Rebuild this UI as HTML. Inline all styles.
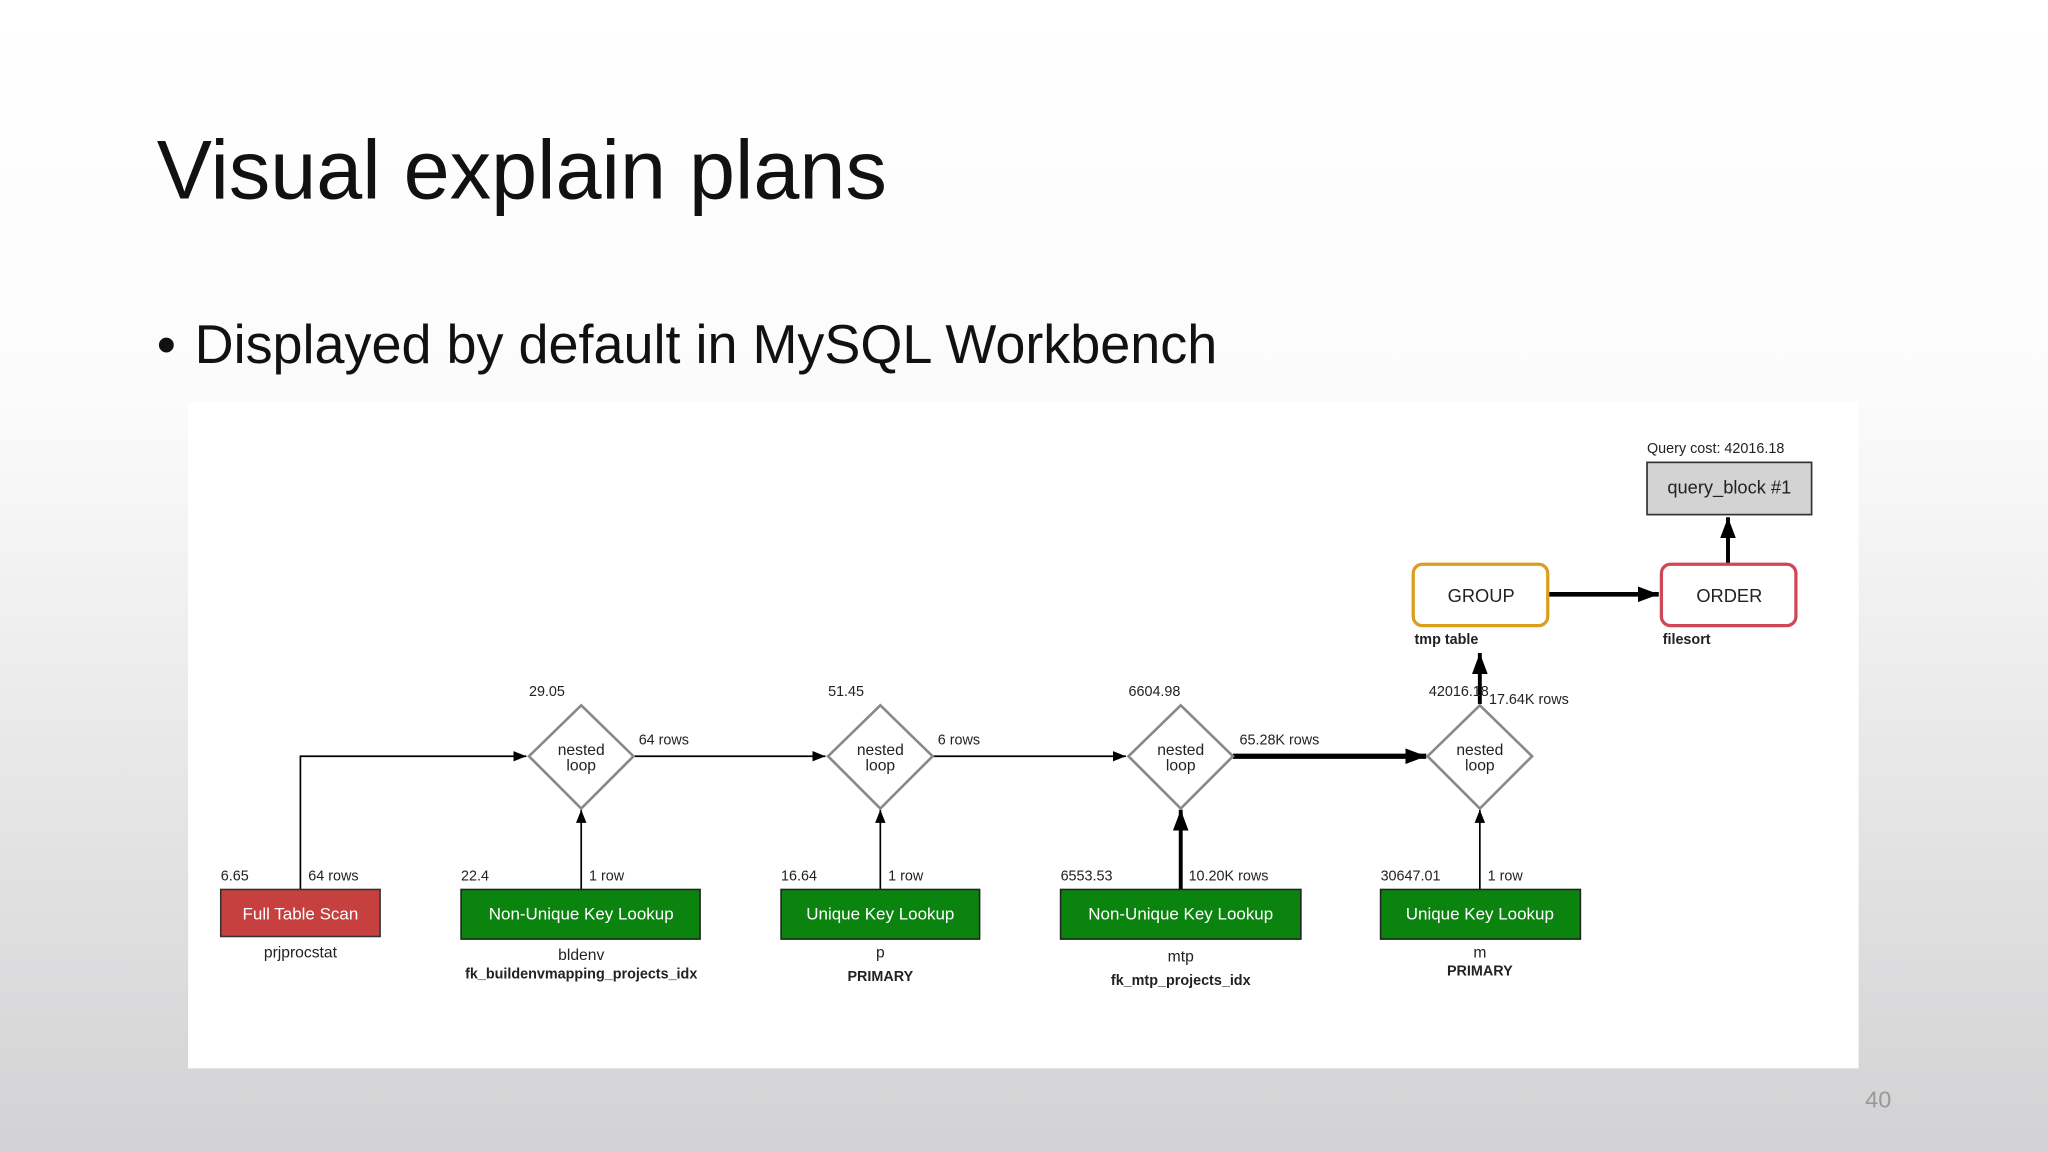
<!DOCTYPE html>
<html><head><meta charset="utf-8"><style>
html,body{margin:0;padding:0;width:2048px;height:1152px;overflow:hidden}
</style></head><body>
<svg width="2048" height="1152" viewBox="0 0 1568 882" xmlns="http://www.w3.org/2000/svg" font-family="Liberation Sans, Arial, sans-serif">
<defs>
<linearGradient id="bg" x1="0" y1="0" x2="0" y2="1">
<stop offset="0" stop-color="#ffffff"/><stop offset="0.35" stop-color="#fbfbfb"/><stop offset="1" stop-color="#d2d2d4"/>
</linearGradient>
<marker id="a" markerWidth="10" markerHeight="8" refX="10" refY="4" orient="auto" markerUnits="userSpaceOnUse"><path d="M0,0 L10,4 L0,8 z" fill="#000"/></marker>
<marker id="ab" markerWidth="16" markerHeight="12" refX="16" refY="6" orient="auto" markerUnits="userSpaceOnUse"><path d="M0,0 L16,6 L0,12 z" fill="#000"/></marker>
</defs>
<rect width="1568" height="882" fill="url(#bg)"/>
<text x="120" y="152" font-size="64" fill="#111" textLength="559" lengthAdjust="spacingAndGlyphs">Visual explain plans</text>
<text x="120" y="278" font-size="42" fill="#111">•</text>
<text x="149" y="278" font-size="42" fill="#111" textLength="783" lengthAdjust="spacingAndGlyphs">Displayed by default in MySQL Workbench</text>
<text x="1428" y="848" font-size="18" fill="#999">40</text>
<rect x="144" y="308" width="1279" height="510" fill="#fff"/>

<g font-size="11" fill="#222">
<!-- connectors -->
<polyline points="230,681 230,579 403,579" fill="none" stroke="#000" stroke-width="1.3" marker-end="url(#a)"/>
<line x1="485" y1="579" x2="632" y2="579" stroke="#000" stroke-width="1.3" marker-end="url(#a)"/>
<line x1="714" y1="579" x2="862" y2="579" stroke="#000" stroke-width="1.3" marker-end="url(#a)"/>
<line x1="944" y1="579" x2="1092" y2="579" stroke="#000" stroke-width="4" marker-end="url(#ab)"/>
<line x1="445" y1="681" x2="445" y2="620" stroke="#000" stroke-width="1.3" marker-end="url(#a)"/>
<line x1="674" y1="681" x2="674" y2="620" stroke="#000" stroke-width="1.3" marker-end="url(#a)"/>
<line x1="904" y1="681" x2="904" y2="620" stroke="#000" stroke-width="3" marker-end="url(#ab)"/>
<line x1="1133" y1="681" x2="1133" y2="620" stroke="#000" stroke-width="1.3" marker-end="url(#a)"/>
<line x1="1133" y1="539" x2="1133" y2="500" stroke="#000" stroke-width="3" marker-end="url(#ab)"/>
<line x1="1185" y1="455" x2="1270" y2="455" stroke="#000" stroke-width="3.5" marker-end="url(#ab)"/>
<line x1="1323" y1="431" x2="1323" y2="396" stroke="#000" stroke-width="3" marker-end="url(#ab)"/>

<!-- diamonds -->
<g fill="#fff" stroke="#888" stroke-width="2">
<polygon points="445,540 485,579 445,619 405,579"/>
<polygon points="674,540 714,579 674,619 634,579"/>
<polygon points="904,540 944,579 904,619 864,579"/>
<polygon points="1133,540 1173,579 1133,619 1093,579"/>
</g>
<g font-size="12" text-anchor="middle">
<text x="445" y="578">nested</text><text x="445" y="590">loop</text>
<text x="674" y="578">nested</text><text x="674" y="590">loop</text>
<text x="904" y="578">nested</text><text x="904" y="590">loop</text>
<text x="1133" y="578">nested</text><text x="1133" y="590">loop</text>
</g>
<text x="405" y="533">29.05</text><text x="634" y="533">51.45</text><text x="864" y="533">6604.98</text><text x="1094" y="533">42016.18</text>
<text x="1140" y="539">17.64K rows</text>
<text x="489" y="570">64 rows</text><text x="718" y="570">6 rows</text><text x="949" y="570">65.28K rows</text>

<!-- boxes -->
<rect x="169" y="681" width="122" height="36" fill="#c5403f" stroke="#333" stroke-width="1.2"/>
<rect x="353" y="681" width="183" height="38" fill="#0b840f" stroke="#222" stroke-width="1.2"/>
<rect x="598" y="681" width="152" height="38" fill="#0b840f" stroke="#222" stroke-width="1.2"/>
<rect x="812" y="681" width="184" height="38" fill="#0b840f" stroke="#222" stroke-width="1.2"/>
<rect x="1057" y="681" width="153" height="38" fill="#0b840f" stroke="#222" stroke-width="1.2"/>
<g fill="#fff" font-size="13" text-anchor="middle">
<text x="230" y="704">Full Table Scan</text>
<text x="445" y="704">Non-Unique Key Lookup</text>
<text x="674" y="704">Unique Key Lookup</text>
<text x="904" y="704">Non-Unique Key Lookup</text>
<text x="1133" y="704">Unique Key Lookup</text>
</g>
<text x="169" y="674">6.65</text><text x="236" y="674">64 rows</text>
<text x="353" y="674">22.4</text><text x="451" y="674">1 row</text>
<text x="598" y="674">16.64</text><text x="680" y="674">1 row</text>
<text x="812" y="674">6553.53</text><text x="910" y="674">10.20K rows</text>
<text x="1057" y="674">30647.01</text><text x="1139" y="674">1 row</text>
<g text-anchor="middle" font-size="12">
<text x="230" y="733">prjprocstat</text>
<text x="445" y="735">bldenv</text>
<text x="445" y="749" font-weight="bold" font-size="11">fk_buildenvmapping_projects_idx</text>
<text x="674" y="733">p</text>
<text x="674" y="751" font-weight="bold" font-size="11">PRIMARY</text>
<text x="904" y="736">mtp</text>
<text x="904" y="754" font-weight="bold" font-size="11">fk_mtp_projects_idx</text>
<text x="1133" y="733">m</text>
<text x="1133" y="747" font-weight="bold" font-size="11">PRIMARY</text>
</g>

<!-- top -->
<rect x="1082" y="432" width="103" height="47" rx="7" fill="#fff" stroke="#d9a020" stroke-width="2.5"/>
<rect x="1272" y="432" width="103" height="47" rx="7" fill="#fff" stroke="#d04858" stroke-width="2.5"/>
<text x="1134" y="461" font-size="14" text-anchor="middle">GROUP</text>
<text x="1324" y="461" font-size="14" text-anchor="middle">ORDER</text>
<text x="1083" y="493" font-weight="bold" font-size="11">tmp table</text>
<text x="1273" y="493" font-weight="bold" font-size="11">filesort</text>
<rect x="1261" y="354" width="126" height="40" fill="#d3d3d3" stroke="#333" stroke-width="1.3"/>
<text x="1324" y="378" font-size="14" text-anchor="middle">query_block #1</text>
<text x="1261" y="347">Query cost: 42016.18</text>
</g>
</svg>
</body></html>
